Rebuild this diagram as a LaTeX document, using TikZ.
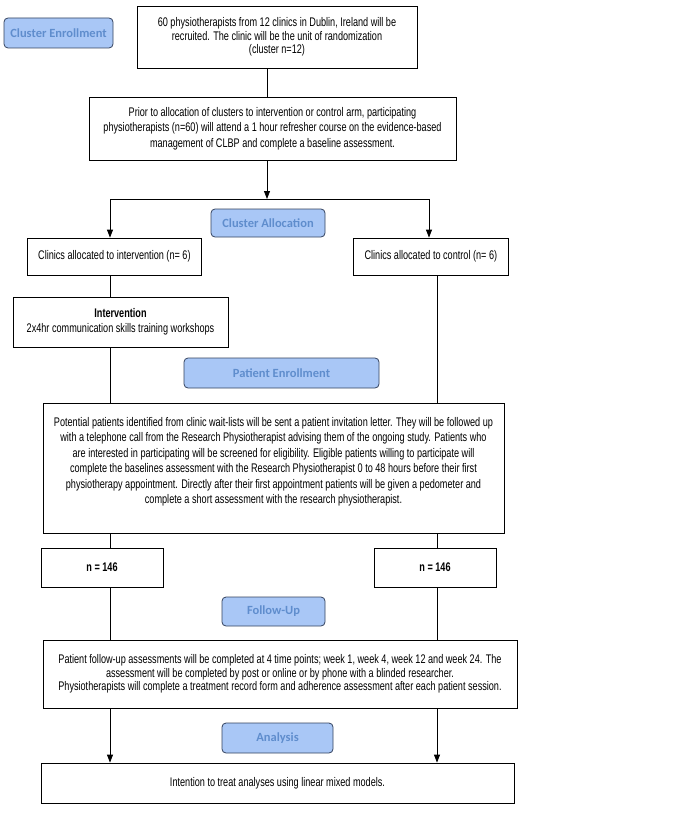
\documentclass[tikz,border=0pt]{standalone}
\usepackage{fontspec}
\usetikzlibrary{positioning,arrows.meta}
\newfontfamily\boxfont[FakeStretch=0.73]{Liberation Sans}
\newfontfamily\tagfont{Carlito}
\definecolor{tagfill}{HTML}{A9C7F6}
\definecolor{tagtext}{HTML}{5F8DCD}
\definecolor{tagline}{HTML}{34425E}

\begin{document}
\begin{tikzpicture}[
    x=1pt, y=-1pt,
    box/.style={draw, fill=white, line width=0.8pt, font=\boxfont\fontsize{12.5}{15.5}\selectfont, align=center, inner sep=0pt},
    tight/.style={font=\boxfont\fontsize{12.5}{13.5}\selectfont},
    tag/.style={draw=tagline, fill=tagfill, rounded corners=4pt, line width=0.8pt, text=tagtext, font=\tagfont\bfseries\fontsize{12.5}{15}\selectfont, inner sep=0pt},
    link/.style={line width=0.8pt},
    >={Triangle[length=8pt,width=6pt]}
]
\useasboundingbox (0,0) rectangle (685,813);

% Columns of the two arms
\coordinate (split) at (267,199);
\coordinate (colI) at (110,0);
\coordinate (colC) at (437,0);
\coordinate (dropI) at (110,199);
\coordinate (dropC) at (429,199);

% Stage labels
\node[tag, minimum width=109, minimum height=30] (enrolTag) at (58.5,33) {Cluster Enrollment};
\node[tag, minimum width=114, minimum height=28] (allocTag) at (268,223) {Cluster Allocation};
\node[tag, minimum width=195, minimum height=30] (patTag) at (281.5,373) {Patient Enrollment};
\node[tag, minimum width=103, minimum height=29] (followTag) at (273.5,611.5) {Follow-Up};
\node[tag, minimum width=111, minimum height=30] (analysisTag) at (277.5,738) {Analysis};

% Boxes
\node[box, tight, minimum width=280, minimum height=62] (recruit) at (277,37)
    {60 physiotherapists from 12 clinics in Dublin, Ireland will be\\
     recruited. The clinic will be the unit of randomization\\
     (cluster n=12)};
\node[box, minimum width=367, minimum height=63] (refresher) at (272.5,128.5)
    {Prior to allocation of clusters to intervention or control arm, participating\\
     physiotherapists (n=60) will attend a 1 hour refresher course on the evidence-based\\
     management of CLBP and complete a baseline assessment.};
\node[box, minimum width=174, minimum height=37, align=left, anchor=west, inner xsep=8pt] (armI) at (27,256.5)
    {Clinics allocated to intervention (n= 6)};
\node[box, minimum width=155, minimum height=37, align=left, anchor=west, inner xsep=6pt] (armC) at (353,256.5)
    {Clinics allocated to control (n= 6)};
\node[box, minimum width=215, minimum height=50] (workshop) at (120.5,322)
    {\bfseries Intervention\\
     2x4hr communication skills training workshops};
\node[box, minimum width=461, minimum height=130] (screen) at (273.5,468)
    {Potential patients identified from clinic wait-lists will be sent a patient invitation letter. They will be followed up\\
     with a telephone call from the Research Physiotherapist advising them of the ongoing study. Patients who\\
     are interested in participating will be screened for eligibility. Eligible patients willing to participate will\\
     complete the baselines assessment with the Research Physiotherapist 0 to 48 hours before their first\\
     physiotherapy appointment. Directly after their first appointment patients will be given a pedometer and\\
     complete a short assessment with the research physiotherapist.\\ \mbox{}};
\node[box, minimum width=122, minimum height=39, font=\boxfont\bfseries\fontsize{12.5}{15.5}\selectfont] (nI) at (102,567.5) {n = 146};
\node[box, minimum width=122, minimum height=39, font=\boxfont\bfseries\fontsize{12.5}{15.5}\selectfont] (nC) at (435,567.5) {n = 146};
\node[box, tight, minimum width=474, minimum height=68] (follow) at (280,674)
    {Patient follow-up assessments will be completed at 4 time points; week 1, week 4, week 12 and week 24. The\\
     assessment will be completed by post or online or by phone with a blinded researcher.\\
     Physiotherapists will complete a treatment record form and adherence assessment after each patient session.};
\node[box, minimum width=473, minimum height=40] (itt) at (277.5,783)
    {Intention to treat analyses using linear mixed models.};

% Connectors
\draw[link] (recruit.south -| split) -- (refresher.north -| split);
\draw[link, ->] (refresher.south -| split) -- (split);
\draw[link] (dropI) -- (dropC);
\draw[link, ->] (dropI) -- (armI.north -| dropI);
\draw[link, ->] (dropC) -- (armC.north -| dropC);

\draw[link] (armI.south -| colI) -- (workshop.north -| colI);
\draw[link] (workshop.south -| colI) -- (screen.north -| colI);
\draw[link] (screen.south -| colI) -- (nI.north -| colI);
\draw[link] (nI.south -| colI) -- (follow.north -| colI);
\draw[link, ->] (follow.south -| colI) -- (itt.north -| colI);

\draw[link] (armC.south -| colC) -- (screen.north -| colC);
\draw[link] (screen.south -| colC) -- (nC.north -| colC);
\draw[link] (nC.south -| colC) -- (follow.north -| colC);
\draw[link, ->] (follow.south -| colC) -- (itt.north -| colC);

\end{tikzpicture}
\end{document}
